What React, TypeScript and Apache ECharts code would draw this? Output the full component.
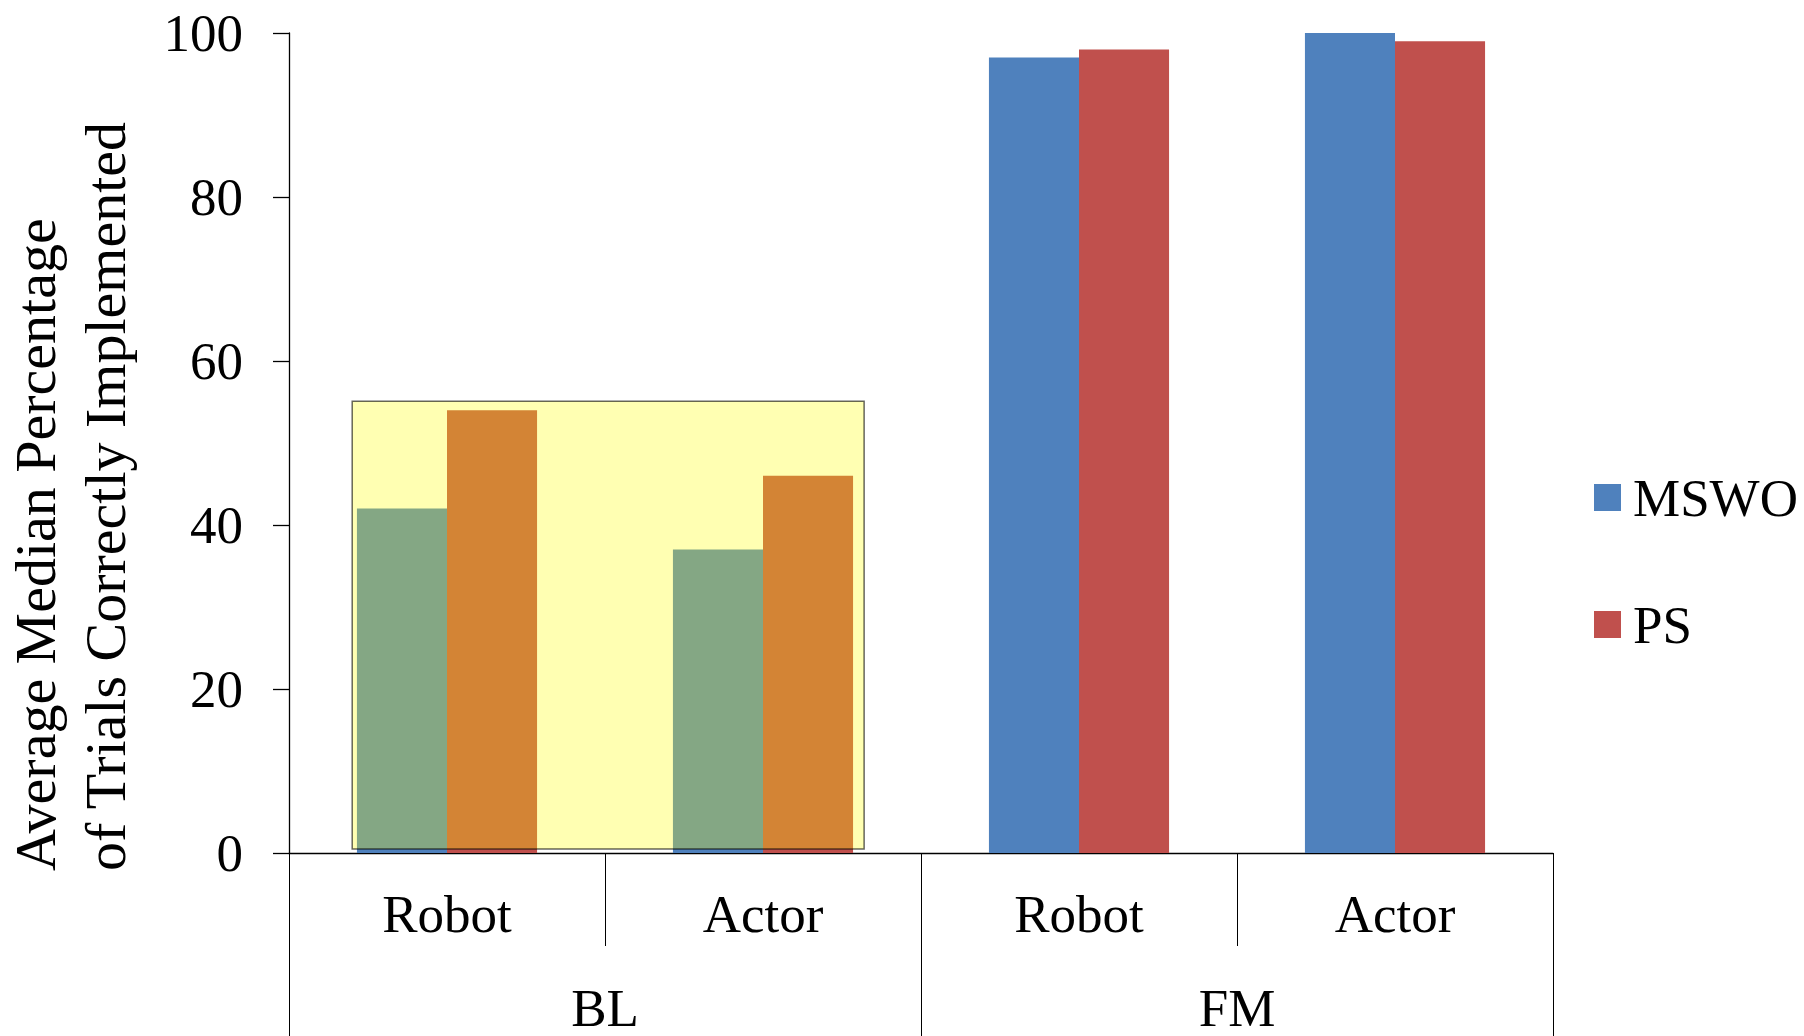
import React, { useEffect, useRef } from "react";
import * as echarts from "echarts";

const SUB_CATEGORIES = ["Robot", "Actor", "Robot", "Actor"];
const GROUPS = ["BL", "FM"];
const MSWO = [42, 37, 97, 100];
const PS = [54, 46, 98, 99];
const SERIES_NAMES = ["MSWO", "PS"];
const Y_TICKS = { min: 0, max: 100, interval: 20 };
const Y_TITLE = ["Average Median Percentage", "of Trials Correctly Implemented"];
// highlight box around the BL group, in data units (y) and category offsets (x)
const HIGHLIGHT_Y = [0.5, 55.1];
const HIGHLIGHT_X = [-0.3, 0.32];

const FONT = '"Liberation Serif", "Times New Roman", serif';

export default function App() {
  const ref = useRef<HTMLDivElement>(null);
  useEffect(() => {
    const el = ref.current!;
    const chart = echarts.init(el, null, { renderer: "svg" });
    const axisLine = { show: true, lineStyle: { color: "#000", width: 1.3 } };
    const option: any = {
      animation: false,
      backgroundColor: "#fff",
      textStyle: { fontFamily: FONT },
      grid: { left: 289, right: 251, top: 33, bottom: 183, containLabel: false },
      legend: {
        orient: "vertical",
        left: 1589,
        top: 466,
        padding: 5,
        itemWidth: 27,
        itemHeight: 27,
        itemGap: 74,
        icon: "rect",
        selectedMode: false,
        data: SERIES_NAMES,
        textStyle: { fontFamily: FONT, fontSize: 53, color: "#000", lineHeight: 53, padding: [0, 0, 0, 7] },
      },
      xAxis: [
        {
          type: "category",
          position: "bottom",
          data: SUB_CATEGORIES,
          axisLine,
          axisTick: { show: true, interval: 0, length: 93, lineStyle: { color: "#000", width: 1 } },
          axisLabel: { interval: 0, margin: 34, fontFamily: FONT, fontSize: 53, color: "#000", lineHeight: 53 },
          splitLine: { show: false },
        },
        {
          type: "category",
          position: "bottom",
          offset: 0,
          data: GROUPS,
          axisLine: { show: false },
          axisTick: { show: true, interval: 0, length: 220, lineStyle: { color: "#000", width: 1 } },
          axisLabel: { interval: 0, margin: 128, fontFamily: FONT, fontSize: 53, color: "#000", lineHeight: 53 },
          splitLine: { show: false },
        },
      ],
      yAxis: {
        type: "value",
        min: Y_TICKS.min,
        max: Y_TICKS.max,
        interval: Y_TICKS.interval,
        axisLine,
        axisTick: { show: true, length: 16, lineStyle: { color: "#000", width: 1.3 } },
        axisLabel: { margin: 46, fontFamily: FONT, fontSize: 53, color: "#000" },
        splitLine: { show: false },
      },
      series: [
        {
          name: SERIES_NAMES[0],
          type: "bar",
          xAxisIndex: 0,
          data: MSWO,
          barGap: "0%",
          barCategoryGap: "43%",
          itemStyle: { color: "#4F81BD" },
        },
        {
          name: SERIES_NAMES[1],
          type: "bar",
          xAxisIndex: 0,
          data: PS,
          barGap: "0%",
          barCategoryGap: "43%",
          itemStyle: { color: "#C0504D" },
        },
      ],
    };
    chart.setOption(option);

    const pTop = chart.convertToPixel({ gridIndex: 0 }, [0, HIGHLIGHT_Y[1]]) as number[];
    const pBot = chart.convertToPixel({ gridIndex: 0 }, [1, HIGHLIGHT_Y[0]]) as number[];
    const band = pBot[0] - pTop[0];
    const x0 = pTop[0] + HIGHLIGHT_X[0] * band;
    const x1 = pBot[0] + HIGHLIGHT_X[1] * band;
    const yZero = chart.convertToPixel({ gridIndex: 0 }, [0, 0]) as number[];

    chart.setOption({
      graphic: [
        {
          type: "rect",
          z: 50,
          shape: { x: x0, y: pTop[1], width: x1 - x0, height: pBot[1] - pTop[1] },
          style: { fill: "rgba(255,255,0,0.3)", stroke: "rgba(0,0,0,0.6)", lineWidth: 1.5 },
        },
        {
          type: "text",
          z: 50,
          x: 0,
          y: yZero[1] + 18,
          rotation: Math.PI / 2,
          style: {
            text: Y_TITLE.join("\n"),
            font: `58px ${FONT}`,
            fill: "#000",
            textAlign: "left",
            textVerticalAlign: "top",
            lineHeight: 70,
          },
        },
      ],
    });
    return () => chart.dispose();
  }, []);
  return <div ref={ref} style={{ position: "fixed", left: 0, top: 0, width: 1804, height: 1036 }} />;
}
